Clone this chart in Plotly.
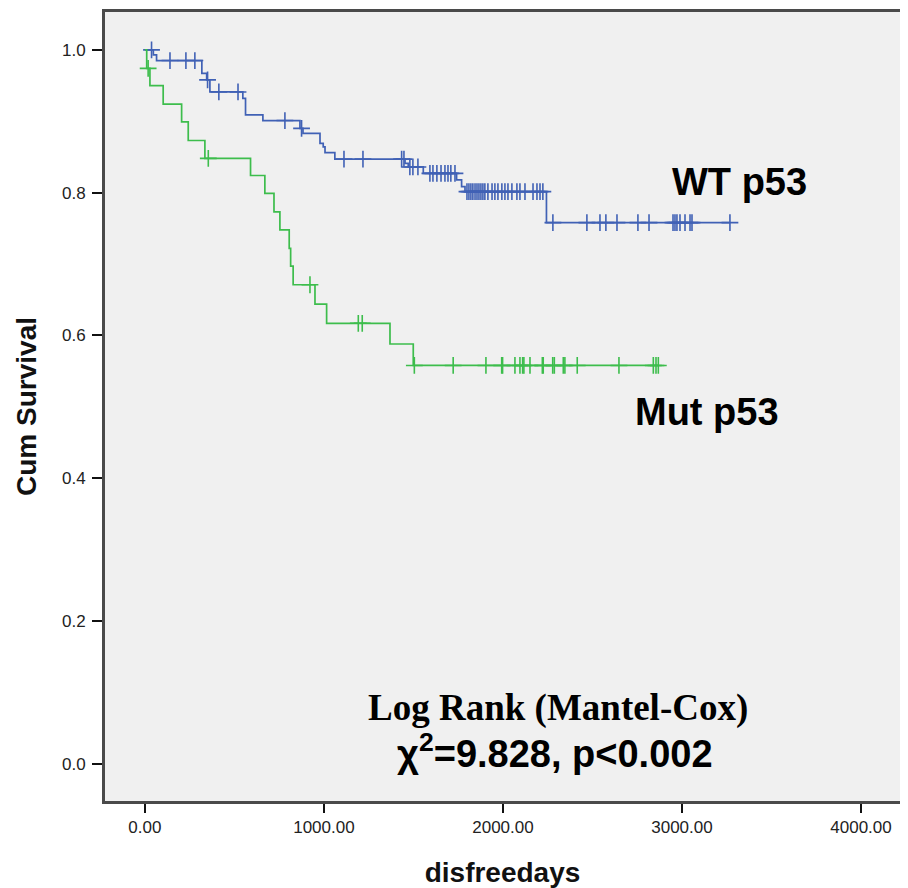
import plotly.graph_objects as go

# ---------------- data ----------------
wt_event_days = [47, 65, 318, 345, 363, 547, 562, 659, 866, 883, 978, 996, 1006, 1061,
                 1453, 1471, 1555, 1741, 1769, 1788, 2243]
wt_event_surv = [0.993, 0.985, 0.967, 0.958, 0.941, 0.932, 0.909, 0.901, 0.890, 0.883,
                 0.869, 0.864, 0.856, 0.847, 0.841, 0.836, 0.827, 0.818, 0.8085, 0.8015, 0.758]
wt_censor_days = [37, 140, 229, 279, 350, 413, 520, 782, 875, 1112, 1218, 1434, 1447, 1480,
                  1497, 1525, 1592, 1609, 1631, 1654, 1676, 1693, 1709, 1732, 1799, 1810,
                  1821, 1832, 1844, 1855, 1866, 1877, 1888, 1899, 1916, 1939, 1955, 1972,
                  1994, 2011, 2028, 2050, 2078, 2095, 2123, 2168, 2190, 2207, 2223, 2279,
                  2469, 2542, 2575, 2637, 2754, 2816, 2950, 2961, 2972, 2989, 3017, 3045,
                  3056, 3268]

mut_event_days = [10, 28, 102, 205, 242, 335, 590, 670, 721, 754, 806, 814, 828, 950,
                  1015, 1369, 1499]
mut_event_surv = [0.974, 0.950, 0.924, 0.899, 0.873, 0.848, 0.824, 0.799, 0.773, 0.748,
                  0.722, 0.697, 0.671, 0.644, 0.617, 0.588, 0.558]
mut_censor_days = [18, 354, 922, 1192, 1214, 1505, 1722, 1905, 1993, 1998, 2067, 2095,
                   2110, 2117, 2151, 2220, 2225, 2278, 2287, 2337, 2346, 2415, 2648, 2840,
                   2855, 2868]

x_tick_vals = [0, 1000, 2000, 3000, 4000]
y_tick_vals = [0.0, 0.2, 0.4, 0.6, 0.8, 1.0]

group_names = ["WT p53", "Mut p53"]
stat_title = "Log Rank (Mantel-Cox)"
stat_text = "χ<sup>2</sup>=9.828, p<0.002"

BLUE = "#4061b5"
GREEN = "#3dbd4c"


def step_curve(ev_t, ev_s, end_t):
    xs = [0] + list(ev_t) + [end_t]
    ys = [1.0] + list(ev_s) + [ev_s[-1]]
    return xs, ys


def surv_at(t, ev_t, ev_s):
    s = 1.0
    for et, es in zip(ev_t, ev_s):
        if et <= t:
            s = es
    return s


fig = go.Figure()

for ev_t, ev_s, cens, col, name in [
    (wt_event_days, wt_event_surv, wt_censor_days, BLUE, group_names[0]),
    (mut_event_days, mut_event_surv, mut_censor_days, GREEN, group_names[1]),
]:
    xs, ys = step_curve(ev_t, ev_s, max(cens))
    fig.add_trace(go.Scatter(x=xs, y=ys, mode="lines", line=dict(color=col, width=1.7, shape="hv"),
                             name=name, showlegend=False, hoverinfo="skip"))
    fig.add_trace(go.Scatter(x=cens, y=[surv_at(t, ev_t, ev_s) for t in cens], mode="markers",
                             marker=dict(symbol="cross-thin", size=12, color=col,
                                         line=dict(color=col, width=1.6)),
                             name=name + " censored", showlegend=False))

tickfont = dict(family="Liberation Sans, Arial, sans-serif", size=17, color="#222222")
titlefont = dict(family="Liberation Sans, Arial, sans-serif", size=28, color="#111111")

# the page body adds an 8px offset, so the figure is 8px smaller and margins compensate
fig.update_layout(
    width=900, height=880,
    margin=dict(l=97, r=8, t=4, b=87),
    paper_bgcolor="white",
    plot_bgcolor="#f0f0f0",
    xaxis=dict(range=[-223, 4218], tickvals=x_tick_vals, tickformat=".2f",
               ticks="outside", ticklen=9, tickwidth=1.5, tickcolor="#111111",
               showgrid=False, zeroline=False, showline=True, linecolor="#4a4a4a",
               linewidth=3, mirror=True, tickfont=tickfont, automargin=False,
               title=dict(text="<b>disfreedays</b>", standoff=26, font=titlefont)),
    yaxis=dict(range=[-0.052, 1.053], tickvals=y_tick_vals, tickformat=".1f",
               ticks="outside", ticklen=10, tickwidth=1.5, tickcolor="#111111",
               ticklabelstandoff=3,
               showgrid=False, zeroline=False, showline=True, linecolor="#4a4a4a",
               linewidth=3, mirror=True, tickfont=tickfont, automargin=False,
               title=dict(text="<b>Cum Survival</b>", standoff=18, font=titlefont)),
)

ann_font = dict(family="Liberation Sans, Arial, sans-serif", size=38, color="black")
fig.add_annotation(x=3324, y=0.815, text="<b>" + group_names[0] + "</b>", showarrow=False,
                   font=ann_font, xanchor="center", yanchor="middle")
fig.add_annotation(x=3140, y=0.493, text="<b>" + group_names[1] + "</b>", showarrow=False,
                   font=ann_font, xanchor="center", yanchor="middle")
fig.add_annotation(x=2307, y=0.078, text="<b>" + stat_title + "</b>", showarrow=False,
                   font=dict(family="Liberation Serif, Times New Roman, serif", size=37, color="black"),
                   xanchor="center", yanchor="middle")
fig.add_annotation(x=2291, y=0.018, text="<b>" + stat_text + "</b>", showarrow=False,
                   font=ann_font, xanchor="center", yanchor="middle")

# clipped legend remnants at the right edge
for yp, col in [(80, BLUE), (97, GREEN), (118, BLUE), (145, GREEN)]:
    yy = 1 - (yp - 12) / (801 - 12)
    fig.add_shape(type="line", xref="paper", yref="paper", x0=1.004, x1=1.009, y0=yy, y1=yy,
                  line=dict(color=col, width=2))

fig.write_html("out.html")
